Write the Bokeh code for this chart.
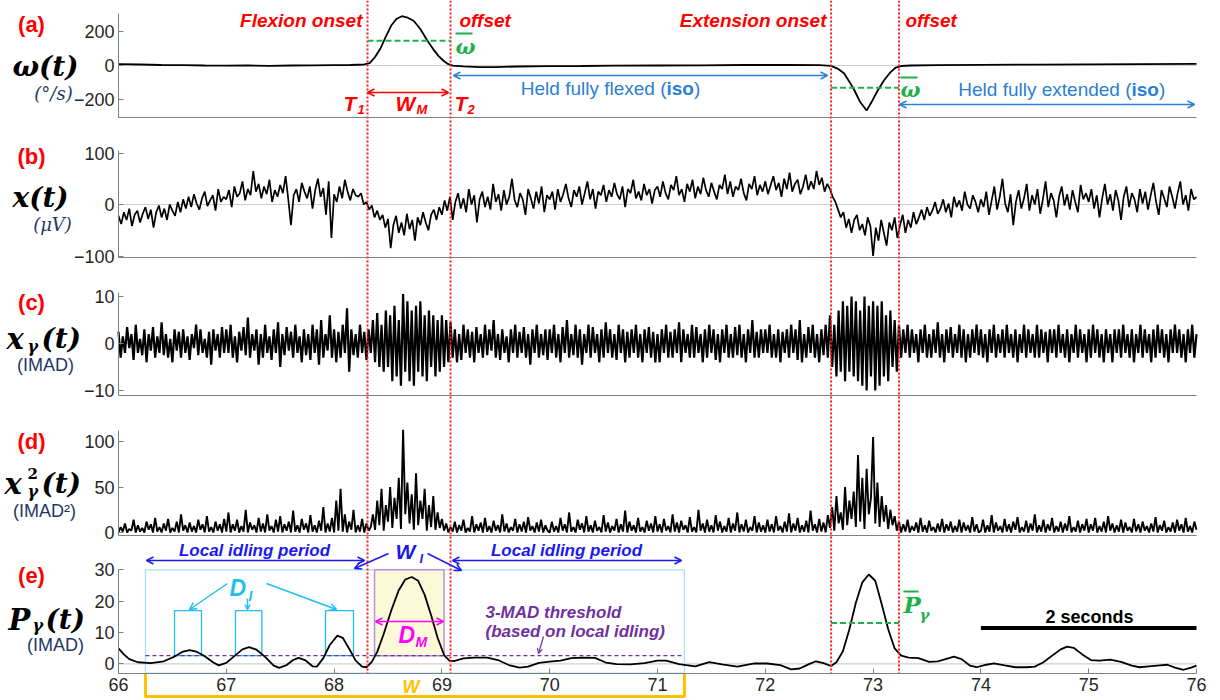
import numpy as np
from bokeh.plotting import figure
from bokeh.models import Range1d, LinearAxis, FixedTicker, Label, Arrow, OpenHead
from bokeh.embed import file_html
from bokeh.resources import INLINE

# ---------------- data ----------------
# (a) angular velocity (deg/s)
OMEGA_T = [66.00, 66.20, 66.40, 66.60, 66.80, 67.00, 67.20, 67.40, 67.60, 67.80, 68.00, 68.15,
           68.28, 68.33, 68.38, 68.43, 68.48, 68.53, 68.58, 68.63, 68.68, 68.74, 68.80, 68.86,
           68.92, 68.97, 69.02, 69.06, 69.10, 69.20, 69.35, 69.50, 69.70, 70.00, 70.30, 70.60,
           71.00, 71.40, 71.80, 72.20, 72.50, 72.61, 72.67, 72.73, 72.78, 72.83, 72.88, 72.94,
           72.99, 73.04, 73.10, 73.16, 73.21, 73.26, 73.35, 73.60, 74.00, 74.50, 75.00, 75.50, 76.00]
OMEGA = [8, 6, 3, 2, 0, -1, 0, -2, 0, 1, 2, 3,
         6, 14, 50, 100, 170, 235, 275, 290, 282, 262, 215, 152,
         95, 55, 25, 8, -1, -5, -10, -9, -6, -4, -3, -1,
         0, 1, 3, 3, 2, -2, -18, -45, -95, -150, -215, -265,
         -210, -150, -88, -40, -12, -3, 0, 2, 4, 5, 7, 8, 10]

# (b) raw EMG (uV), sampled every 0.025 s from 66 s (one row per second)
X_DT = 0.025
X_UV = [
    -22, -38, -15, -30, -8, -42, -20, -12, -35, -18, -5, -28, -10, -45, -15, -2, -25, -8, -30, 0,
    -12, -22, 5, -15, 10, -8, 15, -5, 20, 2, -10, 12, 25, -3, 8, 18, -12, 30, 5, 15,
    10, 28, -5, 35, 15, 22, 45, 8, 30, 18, 65, 25, 40, 12, 35, 20, 48, 5, 28, 15,
    38, 22, 55, 10, -40, 18, 30, 5, 42, 25, 12, 35, -8, 28, 50, 15, 32, -20, 45, -65,
    20, 5, 35, 12, 48, 25, 8, 30, 18, 15, 22, 0, 5, -10, -2, -25, -12, -30, -20, -45,
    -28, -85, -40, -22, -55, -35, -60, -18, -48, -30, -70, -25, -40, -15, -35, -50, -20, -10, -30, -5,
    -20, 8, -12, 15, -30, 5, 22, -8, 12, -15, 30, 0, 18, -35, 10, 25, -5, 15, -10, 40,
    5, 20, -12, 28, 0, 15, 50, 8, -5, 22, 10, -20, 30, 12, -8, 25, 2, 35, -15, 18,
    10, 25, -10, 30, 5, 20, 40, 12, -5, 28, 15, 35, 0, 22, 45, 10, 30, -8, 25, 18,
    38, 5, 28, 15, 42, 20, 10, 35, -5, 30, 22, 48, 12, 25, 8, 40, 18, 30, 2, 28,
    35, 15, 45, 22, 10, 38, 28, 55, 18, 30, 5, 40, 25, 48, 12, 35, 20, 52, 28, 15,
    42, 25, 10, 38, 30, 58, 20, 45, 15, 35, 28, 50, 22, 8, 40, 30, 55, 18, 38, 25,
    45, 20, 38, 55, 28, 42, 15, 50, 30, 62, 25, 40, 48, 20, 35, 58, 28, 45, 30, 65,
    38, 52, 25, 40, 30, 15, 5, -10, -25, -15, -45, -28, -55, -30, -20, -50, -38, -60, -25, -42,
    -100, -45, -70, -30, -55, -80, -35, -50, -25, -65, -40, -20, -55, -30, -45, -15, -38, -25, -10, -30,
    -5, -22, -12, 5, -18, -8, 10, -15, 2, -25, 15, -5, 8, -12, 25, 0, -8, 18, 5, -15,
    10, -5, 25, -20, 8, 35, -10, 15, 50, 2, -15, 20, -40, 5, 28, -8, 12, 40, -12, 18,
    0, 30, -18, 10, 45, -5, 22, 8, -25, 15, 35, -2, 20, -10, 28, 5, -15, 38, 10, 22,
    5, 30, -8, 18, -25, 12, 40, 0, 20, -12, 28, 8, -30, 15, 35, -5, 22, 10, -15, 30,
    2, 25, -10, 18, 42, 5, -20, 28, 12, -5, 35, 15, -8, 22, 45, 0, 18, -12, 30, 10,
    15]

# (c) gamma-band EMG (IMAD), sampled every 0.02 s from 66 s (one row per second)
XG_DT = 0.02
X_GAMMA = [
    2.5, -3, 1.5, -2, 3.5, -1, 2, -3.5, 4, -2, 1, -2.5, 3, -4, 2, -1.5, 3.5, -3, 1.5, -2, 4.5, -2.5, 2, -3, 1,
    -4, 3, -1.5, 2.5, -3, 3, -2, 1.5, -3.5, 2, -1, 4, -2.5, 3, -2, 1, -3, 2.5, -4.5, 3, -1.5, 2, -3, 3.5, -2,
    3, -2, 4, -3, 1.5, -4, 2.5, -1.5, 3.5, -2.5, 5.5, -3, 2, -1.5, 3, -4.5, 2, -3, 4, -2, 1.5, -3.5, 3, -2, 4.5,
    -5, 2, -2.5, 3.5, -1.5, 2.5, -3, 4, -2, 1.5, -4, 3, -2.5, 2, -3.5, 4, -2, 3, -4.5, 5, -3, 2, -1.5, 6, -3,
    3, -4, 2.5, -3, 4, -2, 7.5, -6, 3, -2.5, 2, -3, 4, -2, 2.5, -3.5, 3, -2, 5, -4, 6.5, -5, 4, -6, 7,
    -5, 6, -8, 8, -7, 5, -9, 10.5, -6, 9, -8, 7, -9, 8, -6, 9, -7, 6, -8, 7, -5, 6, -7, 5, -6,
    6, -5, 5, -4, 4.5, -3, 3, -4, 2, -3.5, 4, -2, 3, -3, 2.5, -4, 3.5, -2, 2, -3, 4, -2.5, 3, -1.5, 5,
    -3, 2, -3.5, 3, -2, 1.5, -4, 3, -2, 4, -3, 2.5, -2, 3.5, -3, 2, -4.5, 3, -2, 4, -3, 2, -2.5, 3, -3.5,
    3, -2, 4, -3, 2, -4, 3.5, -2, 5, -3, 2, -2.5, 4, -3, 3, -4.5, 2, -2, 4, -3, 3.5, -2, 2, -4, 3,
    -3, 4.5, -2, 3, -3, 2, -3.5, 4, -2, 3, -4, 2.5, -3, 3, -2, 4, -3, 2, -4, 3, -2, 3.5, -3, 2.5, -4,
    2, -4, 3, -2, 4, -3, 2.5, -3, 3, -2, 4.5, -4, 3, -2, 2, -3, 4, -3, 3.5, -2, 2, -4, 3, -3, 4,
    -2, 3, -3.5, 2, -4, 3, -2, 4, -3, 2, -3, 3.5, -2.5, 4, -3, 2, -4, 3, -2, 5, -3, 2.5, -3, 3, -2,
    3, -2, 4, -3, 2, -3, 3, -4, 2.5, -2, 3, -3, 4, -2, 3, -3.5, 5, -4, 2, -3, 3.5, -2, 4, -3, 2,
    -4, 3, -2.5, 4, -3, 6, -5, 4, -7, 7, -6, 9, -8, 8, -6, 10, -7, 9, -8, 7, -9, 10, -10, 8, -7,
    9, -10, 8, -9, 9, -7, 6, -8, 7, -5, 5, -6, 4, -3, 3, -2, 4, -3, 3, -2, 2, -4, 3, -2, 4,
    -3, 2, -3, 3, -2, 4.5, -3, 2, -4, 3, -2, 3.5, -3, 2, -2, 4, -3, 3, -4, 2, -3, 3, -2, 4, -2.5,
    3, -3, 2, -4, 3, -2, 4, -3, 2, -2, 3, -3, 4, -2, 2, -3, 3, -4, 2, -2, 4, -3, 3, -2, 2,
    -3, 4, -3, 3, -2, 2.5, -4, 3, -2, 3, -3, 4, -2, 2, -3, 3, -4, 2, -2, 4, -3, 3, -2, 2, -4,
    3, -3, 4, -2, 3, -3, 2, -4, 3, -2, 2, -4, 3, -2, 3, -3, 4, -2, 2, -3, 3, -4, 2, -2, 4,
    -3, 3, -2, 2, -4, 3, -3, 4, -2, 3, -3, 2, -4, 3, -2, 4, -2, 3, -3, 2, -4, 3, -2, 4, -3,
    2]

# (d) squared gamma-band EMG (IMAD^2), same sampling as (c)
X_GAMMA_SQ = [
    0, 6, 1, 10, 0, 4, 2, 14, 0, 8, 1, 5, 0, 12, 3, 9, 0, 16, 1, 6, 0, 10, 2, 15, 0,
    5, 1, 12, 0, 20, 2, 8, 0, 11, 1, 7, 0, 14, 3, 9, 0, 18, 1, 6, 0, 12, 2, 9, 0, 15,
    1, 22, 0, 9, 2, 14, 0, 7, 1, 25, 0, 11, 3, 8, 0, 16, 1, 10, 0, 20, 2, 7, 0, 14, 1,
    18, 0, 9, 2, 12, 0, 24, 1, 8, 0, 15, 3, 10, 0, 19, 1, 8, 0, 13, 2, 28, 0, 10, 1, 16,
    0, 35, 2, 48, 1, 20, 0, 12, 3, 25, 0, 8, 1, 15, 0, 10, 2, 6, 20, 3, 35, 8, 48, 2, 30,
    12, 50, 5, 38, 15, 60, 4, 113, 20, 55, 10, 42, 3, 65, 8, 35, 15, 48, 2, 30, 6, 40, 3, 22, 5,
    15, 2, 10, 0, 6, 1, 12, 0, 8, 2, 14, 0, 5, 1, 18, 0, 9, 2, 11, 0, 16, 1, 7, 0, 13,
    2, 8, 0, 20, 1, 10, 0, 6, 2, 15, 0, 9, 1, 12, 0, 17, 2, 7, 0, 11, 1, 14, 0, 8, 2,
    0, 12, 1, 7, 0, 16, 2, 9, 0, 22, 1, 6, 0, 14, 3, 10, 0, 18, 1, 8, 0, 13, 2, 6, 0,
    19, 1, 11, 0, 7, 2, 15, 0, 9, 1, 24, 0, 12, 2, 8, 0, 16, 1, 6, 0, 13, 2, 10, 0, 18,
    1, 9, 0, 15, 2, 7, 0, 20, 1, 11, 0, 13, 3, 8, 0, 17, 1, 6, 0, 25, 2, 10, 0, 14, 1,
    8, 0, 19, 2, 12, 0, 7, 1, 16, 0, 10, 2, 22, 0, 9, 1, 14, 0, 6, 2, 18, 0, 11, 1, 8,
    0, 14, 1, 9, 0, 18, 2, 7, 0, 12, 1, 21, 0, 10, 2, 16, 0, 8, 1, 13, 0, 24, 2, 9, 0,
    15, 1, 11, 0, 19, 5, 28, 2, 40, 10, 22, 3, 50, 8, 35, 15, 45, 6, 85, 12, 60, 4, 70, 20, 38,
    105, 10, 55, 6, 40, 12, 30, 4, 25, 8, 18, 2, 12, 0, 9, 1, 14, 0, 7, 2, 11, 0, 16, 1, 8,
    0, 13, 2, 6, 0, 10, 1, 15, 0, 9, 2, 12, 0, 7, 1, 14, 0, 11, 2, 8, 0, 17, 1, 9, 0,
    2, 14, 0, 8, 1, 19, 0, 11, 2, 7, 0, 15, 1, 9, 0, 12, 3, 17, 0, 6, 1, 13, 0, 10, 2,
    20, 0, 8, 1, 14, 0, 9, 2, 16, 0, 7, 1, 12, 0, 10, 2, 18, 0, 6, 1, 13, 0, 9, 2, 15,
    0, 9, 2, 16, 0, 7, 1, 12, 0, 18, 2, 10, 0, 8, 1, 14, 0, 11, 2, 6, 0, 15, 1, 9, 0,
    12, 2, 7, 0, 10, 1, 17, 0, 8, 2, 13, 0, 6, 1, 11, 0, 14, 2, 9, 0, 16, 1, 7, 0, 12,
    3]

# (e) smoothed gamma power (IMAD)
P_T = [66.00, 66.05, 66.10, 66.18, 66.30, 66.42, 66.52, 66.60, 66.66, 66.72, 66.80, 66.88, 66.93, 67.00,
       67.08, 67.15, 67.21, 67.28, 67.36, 67.44, 67.49, 67.56, 67.62, 67.67, 67.73, 67.80, 67.84, 67.90,
       67.96, 68.03, 68.08, 68.14, 68.20, 68.26, 68.30, 68.35, 68.40, 68.46, 68.53, 68.60, 68.66, 68.72,
       68.78, 68.84, 68.90, 68.96, 69.02, 69.07, 69.12, 69.20, 69.30, 69.42, 69.52, 69.62, 69.72, 69.80,
       69.90, 70.00, 70.10, 70.20, 70.30, 70.42, 70.52, 70.62, 70.75, 70.88, 71.00, 71.08, 71.20, 71.35,
       71.48, 71.60, 71.74, 71.90, 72.02, 72.14, 72.24, 72.32, 72.40, 72.47, 72.54, 72.61, 72.66, 72.72,
       72.78, 72.84, 72.90, 72.96, 73.02, 73.08, 73.14, 73.20, 73.26, 73.33, 73.42, 73.52, 73.60, 73.68,
       73.75, 73.82, 73.90, 73.96, 74.05, 74.12, 74.22, 74.32, 74.42, 74.50, 74.58, 74.66, 74.74, 74.80,
       74.86, 74.94, 75.02, 75.10, 75.20, 75.30, 75.40, 75.47, 75.56, 75.66, 75.73, 75.80, 75.88, 75.95, 76.00]
P_GAMMA = [4.9, 3.0, 1.5, 0.5, 0.2, 0.8, 2.3, 3.9, 4.4, 3.9, 2.4, 0.4, -0.5, 0.3,
           2.6, 4.6, 5.3, 4.5, 2.2, -0.6, -1.3, -0.4, 1.2, 1.9, 1.2, -0.8, -0.9, 1.8,
           6.0, 9.0, 8.3, 4.8, 1.0, -0.9, -1.1, 0.6, 3.8, 9.5, 17.0, 23.5, 26.9, 27.7,
           26.5, 22.0, 15.5, 8.3, 2.8, 1.0, 0.9, 1.7, 2.0, 2.0, 1.2, -0.4, -1.2, -0.9,
           0.3, 0.7, 1.0, 1.8, 2.0, 1.9, 0.4, -0.1, -0.2, 0.2, 1.0, 1.0, -0.1, -0.8,
           0.5, -0.2, -0.9, 0.1, 0.1, -0.4, -1.8, -1.5, -0.2, 0.8, 0.2, -0.7, 0.5, 4.0,
           11.0, 19.5, 26.0, 28.5, 26.5, 19.0, 11.0, 4.9, 2.6, 2.0, 1.8, 0.6, 0.8, 1.6,
           2.3, 1.5, -0.6, -1.1, -0.3, 0.1, -0.5, -1.1, -1.1, -0.9, 0.5, 2.6, 4.6, 5.5,
           5.1, 3.0, 1.2, 1.0, 1.3, 0.6, -0.6, -1.1, -0.8, -0.5, -0.3, -1.2, -1.9, -1.2, -0.6]

# movement markers and derived quantities
EVENTS = [68.31, 69.08, 72.61, 73.24]          # flexion onset/offset, extension onset/offset
OMEGA_BAR = [145, -131]                        # mean angular velocity of each movement
P_BAR = 13.0                                   # mean gamma power during extension
THRESHOLD = 2.6                                # 3-MAD threshold
WINDOW = [66.25, 71.25]                        # analysis window W
D_I_LEFT = [66.52, 67.085, 67.92]              # idling detections D_I
D_I_RIGHT = [66.77, 67.33, 68.18]
D_I_TOP = 17
D_M = [68.375, 69.02]                          # movement detection D_M
SCALE_BAR = [74.0, 76.0]
SCALE_Y = 11.4
X_TICKS = list(range(66, 77))

# ---------------- layout ----------------
W, H = 1220, 700
PX66, PX76 = 118, 1196
PPS = (PX76 - PX66) / 10.0
XS = 66 - PX66 / PPS
XE = 76 + (W - PX76) / PPS

# name: (pixel of 0, pixel of ref value, ref value, axis bounds, ticks)
PANELS = {
    "a": (65.0, 31.0, 200, (-305, 305), [-200, 0, 200]),
    "b": (204.0, 152.5, 100, (-102, 105), [-100, 0, 100]),
    "c": (343.0, 296.0, 10, (-11.1, 10.9), [-10, 0, 10]),
    "d": (532.0, 441.0, 100, (-3.3, 112), [0, 50, 100]),
    "e": (663.3, 569.3, 30, (-3.0, 30), [0, 10, 20, 30]),
}

p = figure(width=W, height=H, x_range=Range1d(XS, XE), y_range=Range1d(H, 0),
           x_axis_location=None, y_axis_location=None, output_backend="svg",
           toolbar_location=None, min_border=0, outline_line_color=None)
p.grid.visible = False
p.background_fill_color = "white"
p.border_fill_color = "white"
p.extra_x_ranges = {"px": Range1d(0, W)}

AX_COL = "#808080"
TICK_FONT = "Liberation Sans"
for name, (p0, pr, vr, bnd, ticks) in PANELS.items():
    k = vr / (p0 - pr)
    p.extra_y_ranges[name] = Range1d(-(H - p0) * k, p0 * k)

for name, (p0, pr, vr, bnd, ticks) in PANELS.items():
    yax = LinearAxis(y_range_name=name, fixed_location=66, bounds=bnd,
                     ticker=FixedTicker(ticks=ticks), axis_line_color=AX_COL,
                     major_tick_line_color=AX_COL, major_tick_in=5, major_tick_out=0,
                     minor_tick_line_color=None, major_label_standoff=4,
                     major_label_text_font=TICK_FONT, major_label_text_font_size="18px",
                     major_label_text_color="#262626")
    p.add_layout(yax, "left")
    last = name == "e"
    xax = LinearAxis(y_range_name=name, fixed_location=bnd[0], bounds=(66, 76),
                     ticker=FixedTicker(ticks=X_TICKS if last else []),
                     axis_line_color=AX_COL, major_tick_line_color=AX_COL,
                     major_tick_in=5, major_tick_out=0, minor_tick_line_color=None,
                     major_label_standoff=5, major_label_text_font=TICK_FONT,
                     major_label_text_font_size="18px", major_label_text_color="#262626")
    p.add_layout(xax, "below")
    if name != "d":
        p.segment(x0=[66], x1=[76], y0=[0], y1=[0], y_range_name=name,
                  line_color="#cfcfcf", line_width=1.2)

# ---- panel (e) boxes (under the curve) ----
CYAN = "#1ebff0"
p.quad(left=[WINDOW[0]], right=[WINDOW[1]], bottom=[PANELS["e"][3][0]], top=[30],
       y_range_name="e", fill_color=None, line_color="#a6e2f7", line_width=1.3)
p.quad(left=[D_M[0]], right=[D_M[1]], bottom=[THRESHOLD], top=[30], y_range_name="e",
       fill_color="#fcf9d9", line_color="#b792d8", line_width=1.5)
p.quad(left=D_I_LEFT, right=D_I_RIGHT, bottom=[THRESHOLD] * 3, top=[D_I_TOP] * 3,
       y_range_name="e", fill_color=None, line_color=CYAN, line_width=1.3)
p.line(WINDOW, [THRESHOLD, THRESHOLD], y_range_name="e", line_color="#7030a0",
       line_dash="4 3", line_width=1.4)

# ---- signals ----
tb = 66 + np.arange(len(X_UV)) * X_DT
tg = 66 + np.arange(len(X_GAMMA)) * XG_DT
tg2 = 66 + np.arange(len(X_GAMMA_SQ)) * XG_DT
p.line(OMEGA_T, OMEGA, y_range_name="a", line_color="black", line_width=1.8)
p.line(tb, X_UV, y_range_name="b", line_color="black", line_width=1.7)
p.line(tg, X_GAMMA, y_range_name="c", line_color="black", line_width=2.2)
p.line(tg2, X_GAMMA_SQ, y_range_name="d", line_color="black", line_width=1.9)
p.line(P_T, P_GAMMA, y_range_name="e", line_color="black", line_width=1.8)

# ---- red dotted event markers ----
e_bottom_px = PANELS["e"][0] - PANELS["e"][3][0] * (PANELS["e"][0] - PANELS["e"][1]) / 30
p.segment(x0=EVENTS, x1=EVENTS, y0=[0] * 4, y1=[e_bottom_px] * 4,
          line_color="#ff1a1a", line_width=2, line_dash="2 2")

# ---- green mean lines ----
GREEN = "#1faf4b"
p.line(EVENTS[0:2], [OMEGA_BAR[0]] * 2, y_range_name="a", line_color=GREEN, line_width=2, line_dash="6 3")
p.line(EVENTS[2:4], [OMEGA_BAR[1]] * 2, y_range_name="a", line_color=GREEN, line_width=2, line_dash="6 3")
p.line(EVENTS[2:4], [P_BAR] * 2, y_range_name="e", line_color=GREEN, line_width=2, line_dash="6 3")

# ---- scale bar ----
p.line(SCALE_BAR, [SCALE_Y] * 2, y_range_name="e", line_color="black", line_width=4)

# ---- orange bracket W ----
ORANGE = "#ffc000"
p.line([WINDOW[0], WINDOW[0], WINDOW[1], WINDOW[1]], [673, 696, 696, 673],
       line_color=ORANGE, line_width=3)


# ---------------- annotations (pixel coordinates) ----------------
def lab(x, y, text, size, color="black", font="Liberation Sans", style="normal", align="left"):
    p.add_layout(Label(x=x, y=y, x_range_name="px", text=text, text_font=font,
                       text_font_size=f"{size}px", text_font_style=style, text_color=color,
                       text_align=align, text_baseline="middle"))


def arrow(x0, y0, x1, y1, color, both=False, width=1.5, size=7):
    head = lambda: OpenHead(size=size, line_color=color, line_width=width)
    p.add_layout(Arrow(x_start=x0, y_start=y0, x_end=x1, y_end=y1, x_range_name="px",
                       line_color=color, line_width=width, end=head(),
                       start=head() if both else None))


def overline(x0, x1, y, color):
    p.segment(x0=[x0], x1=[x1], y0=[y], y1=[y], x_range_name="px", line_color=color, line_width=2)


RED = "#ff0000"
SERIF = "DejaVu Serif"
UNIT = "#1f3864"
# panel letters
for y, t in [(24, "(a)"), (156, "(b)"), (302, "(c)"), (441, "(d)"), (575, "(e)")]:
    lab(31, y, t, 22, RED, style="bold", align="center")
# y labels
lab(45, 66, "ω(t)", 28, font=SERIF, style="bold italic", align="center")
lab(53, 93, "(°/s)", 18, UNIT, font=SERIF, style="italic", align="center")
lab(40, 197, "x(t)", 28, font=SERIF, style="bold italic", align="center")
lab(52, 224, "(μV)", 18, UNIT, font=SERIF, style="italic", align="center")
lab(6, 338, "x", 29, font=SERIF, style="bold italic")
lab(27, 346, "γ", 16, font=SERIF, style="bold italic")
lab(41, 338, "(t)", 28, font=SERIF, style="bold italic")
lab(45, 364, "(IMAD)", 18, UNIT, align="center")
lab(4, 483, "x", 29, font=SERIF, style="bold italic")
lab(27, 473, "2", 15, font=SERIF, style="bold")
lab(27, 491, "γ", 16, font=SERIF, style="bold italic")
lab(41, 483, "(t)", 28, font=SERIF, style="bold italic")
lab(44, 510, "(IMAD²)", 18, UNIT, align="center")
lab(8, 619, "P", 29, font=SERIF, style="bold italic")
lab(32, 625, "γ", 16, font=SERIF, style="bold italic")
lab(45, 619, "(t)", 28, font=SERIF, style="bold italic")
lab(55, 644, "(IMAD)", 18, UNIT, align="center")

# panel (a) annotations
lab(362, 20, "Flexion onset", 19, RED, style="bold italic", align="right")
lab(459, 20, "offset", 19, RED, style="bold italic")
lab(826, 20, "Extension onset", 19, RED, style="bold italic", align="right")
lab(905, 20, "offset", 19, RED, style="bold italic")
lab(343, 103, "T", 21, RED, style="bold italic")
lab(357, 109, "1", 13, RED, style="bold italic")
lab(395, 103, "W", 21, RED, style="bold italic")
lab(416, 109, "M", 13, RED, style="bold italic")
lab(454, 103, "T", 21, RED, style="bold italic")
lab(467, 109, "2", 13, RED, style="bold italic")
arrow(367, 92, 448, 92, RED, both=True)

lab(455, 46, "ω", 21, GREEN, font=SERIF, style="bold italic")
overline(455, 472, 33, GREEN)
lab(900, 89, "ω", 21, GREEN, font=SERIF, style="bold italic")
overline(900, 917, 77, GREEN)

BLUE_A = "#2a80d2"
ISO_W = 1.445 * 19
arrow(453, 75, 827, 75, BLUE_A, both=True)
lab(666, 88, "Held fully flexed (", 19, BLUE_A, align="right")
lab(666, 88, "iso", 19, BLUE_A, style="bold")
lab(666 + ISO_W, 88, ")", 19, BLUE_A)
arrow(899, 104, 1194, 104, BLUE_A, both=True)
lab(1131, 89, "Held fully extended (", 19, BLUE_A, align="right")
lab(1131, 89, "iso", 19, BLUE_A, style="bold")
lab(1131 + ISO_W, 89, ")", 19, BLUE_A)

# panel (e) annotations
BLUE_E = "#1a1af0"
lab(254, 550, "Local idling period", 17, BLUE_E, style="bold italic", align="center")
lab(566, 550, "Local idling period", 17, BLUE_E, style="bold italic", align="center")
arrow(146, 560, 364, 560, BLUE_E, both=True)
arrow(452, 560, 681, 560, BLUE_E, both=True)
lab(395, 551, "W", 21, BLUE_E, style="bold italic")
lab(419, 558, "I", 13, BLUE_E, style="bold italic")
arrow(388, 553, 354, 568, BLUE_E)
arrow(427, 553, 461, 570, BLUE_E)

lab(229, 587, "D", 23, CYAN, style="bold italic")
lab(248, 595, "I", 14, CYAN, style="bold italic")
arrow(227, 583, 189, 609, CYAN)
arrow(247, 598, 247, 609, CYAN, size=5)
arrow(266, 583, 336, 609, CYAN)

MAG = "#ff00ff"
arrow(375, 621, 443, 621, MAG, both=True)
lab(398, 634, "D", 23, MAG, style="bold italic")
lab(415, 641, "M", 14, MAG, style="bold italic")

PURP = "#7030a0"
lab(485, 612, "3-MAD threshold", 17, PURP, style="bold italic")
lab(485, 631, "(based on local idling)", 17, PURP, style="bold italic")
arrow(543, 636, 538, 653, PURP, width=1.2, size=5)

lab(903, 604, "P", 23, GREEN, font=SERIF, style="bold italic")
overline(903, 918, 591, GREEN)
lab(919, 614, "γ", 15, GREEN, font=SERIF, style="bold italic")

lab(1089, 616, "2 seconds", 18, "black", style="bold", align="center")
lab(402, 686, "W", 18, ORANGE, style="bold italic")

open("out.html", "w").write(file_html(p, INLINE))
